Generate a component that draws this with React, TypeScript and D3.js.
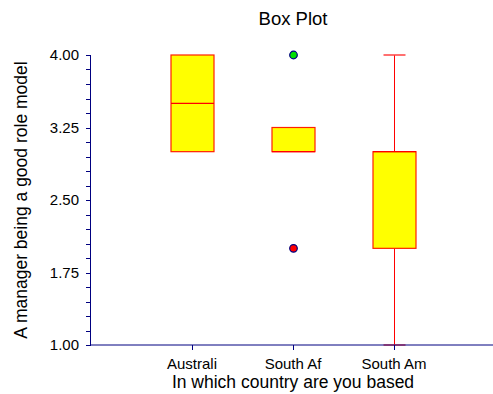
import { scaleLinear, range } from "d3";

const categories = ["Australi", "South Af", "South Am"];
const q1 = [3.0, 3.0, 2.0];
const medians = [3.5, 3.0, 3.0];
const q3 = [4.0, 3.25, 3.0];
const whiskerLow = [3.0, 3.0, 1.0];
const whiskerHigh = [4.0, 3.25, 4.0];
const outliers = [
  { cat: 1, value: 4.0, color: "#00e000" },
  { cat: 1, value: 2.0, color: "#ff0000" },
];
const yTicks = [1.0, 1.75, 2.5, 3.25, 4.0];

const width = 493;
const height = 394;
const margin = { top: 55, right: -2, bottom: 49, left: 91 };
const font = "Liberation Sans, Arial, sans-serif";

const App = () => {
  const innerW = width - margin.left - margin.right;
  const innerH = height - margin.top - margin.bottom;

  const xScale = scaleLinear().domain([0, 4]).range([0, innerW]);
  const yScale = scaleLinear().domain([1, 4]).range([innerH, 0]);

  const minorTicks = range(0, 21).map((i) => 1 + i * 0.15);
  const boxW = 43;
  const capW = 22;

  return (
    <svg
      width={width}
      height={height}
      style={{ position: "absolute", left: 0, top: 0, background: "#fff" }}
      fontFamily={font}
    >
      <text x={margin.left + innerW / 2} y={25} textAnchor="middle" fontSize={18.5} fill="#000">
        Box Plot
      </text>
      <text
        transform={`translate(27,${margin.top + innerH / 2}) rotate(-90)`}
        textAnchor="middle"
        fontSize={17.5}
        fill="#000"
      >
        A manager being a good role model
      </text>
      <text x={margin.left + innerW / 2} y={388} textAnchor="middle" fontSize={17.5} fill="#000">
        In which country are you based
      </text>

      <g transform={`translate(${margin.left},${margin.top})`}>
        {/* y axis */}
        {minorTicks.map((t, i) => (
          <line
            key={i}
            x1={-5}
            x2={0}
            y1={Math.round(yScale(t)) + 0.5}
            y2={Math.round(yScale(t)) + 0.5}
            stroke="#000080"
          />
        ))}
        {yTicks.map((t) => (
          <text
            key={t}
            x={-12}
            y={yScale(t)}
            dy="0.35em"
            textAnchor="end"
            fontSize={15}
            fill="#000"
          >
            {t.toFixed(2)}
          </text>
        ))}
        <line x1={-0.5} x2={-0.5} y1={0} y2={innerH} stroke="#000080" />

        {/* boxes */}
        {categories.map((c, i) => {
          const cx = Math.round(xScale(i + 1)) + 0.5;
          return (
            <g key={c}>
              {whiskerHigh[i] > q3[i] && (
                <>
                  <line x1={cx} x2={cx} y1={yScale(whiskerHigh[i])} y2={yScale(q3[i])} stroke="#ff0000" />
                  <line x1={cx - capW / 2} x2={cx + capW / 2} y1={yScale(whiskerHigh[i])} y2={yScale(whiskerHigh[i])} stroke="#ff4040" strokeWidth={1.5} />
                </>
              )}
              {whiskerLow[i] < q1[i] && (
                <>
                  <line x1={cx} x2={cx} y1={yScale(q1[i])} y2={yScale(whiskerLow[i])} stroke="#ff0000" />
                  <line x1={cx - capW / 2} x2={cx + capW / 2} y1={yScale(whiskerLow[i])} y2={yScale(whiskerLow[i])} stroke="#ff4040" strokeWidth={1.5} />
                </>
              )}
              <rect
                x={cx - boxW / 2}
                y={yScale(q3[i])}
                width={boxW}
                height={yScale(q1[i]) - yScale(q3[i])}
                fill="#ffff00"
                stroke="#ff2000"
                strokeWidth={1.2}
              />
              <line
                x1={cx - boxW / 2}
                x2={cx + boxW / 2}
                y1={yScale(medians[i])}
                y2={yScale(medians[i])}
                stroke="#ff0000"
                strokeWidth={1.3}
              />
            </g>
          );
        })}

        {outliers.map((o, i) => (
          <circle
            key={i}
            cx={Math.round(xScale(o.cat + 1)) + 0.5}
            cy={yScale(o.value)}
            r={3.8}
            fill={o.color}
            stroke="#000080"
            strokeWidth={1.2}
          />
        ))}

        {/* x axis */}
        <line x1={0} x2={innerW} y1={innerH} y2={innerH} stroke="#000080" />
        {categories.map((c, i) => (
          <g key={c} transform={`translate(${Math.round(xScale(i + 1))},${innerH})`}>
            <line x1={0.5} x2={0.5} y1={0} y2={5} stroke="#000080" />
            <text y={24} textAnchor="middle" fontSize={15} fill="#000">
              {c}
            </text>
          </g>
        ))}
      </g>
    </svg>
  );
};

export default App;
